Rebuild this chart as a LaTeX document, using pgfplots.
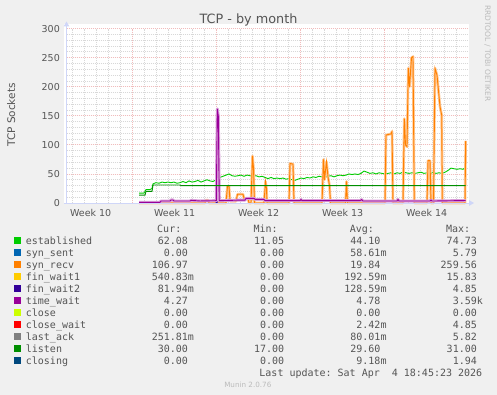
\documentclass[border=0pt]{standalone}
\usepackage{fontspec}
\setmainfont{DejaVu Sans}
\setmonofont{DejaVu Sans Mono}
\usepackage{pgfplots}
\usepackage{pgfplotstable}
\pgfplotsset{compat=1.18}
\usetikzlibrary{arrows.meta}

\definecolor{bgcol}{HTML}{F0F0F0}
\definecolor{txtcol}{HTML}{555555}
\definecolor{lighttxt}{HTML}{BBBBBB}
\definecolor{axiscol}{HTML}{CFD6F8}
\definecolor{majgrid}{HTML}{F2BCBC}
\definecolor{mingrid}{HTML}{D8D8D8}
\definecolor{estcol}{HTML}{00CC00}
\definecolor{synsentcol}{HTML}{0066B3}
\definecolor{synrecvcol}{HTML}{FF8000}
\definecolor{synrecvlight}{HTML}{FFC690}
\definecolor{finwaitonecol}{HTML}{FFCC00}
\definecolor{finwaittwocol}{HTML}{330099}
\definecolor{twcol}{HTML}{990099}
\definecolor{twlight}{HTML}{D9A0D9}
\definecolor{closecol}{HTML}{CCFF00}
\definecolor{closewaitcol}{HTML}{FF0000}
\definecolor{lastackcol}{HTML}{808080}
\definecolor{listencol}{HTML}{008F00}
\definecolor{closingcol}{HTML}{00487D}

\newcommand\legfont{\fontsize{10bp}{12bp}\selectfont\ttfamily}
\newcommand\E[3]{\makebox[168bp][l]{#1\hfill#2\makebox[6.02bp][l]{#3}}}
\newcommand\V[2]{\makebox[96.32bp][r]{#1\makebox[6.02bp][l]{#2}}}

\pgfplotstableread{
x y
139 17
144 17
146 23
150 23
152 25
153 33
156 35
159 34
162 36
165 35
168 36
171 35
174 36
177 34
180 35
183 37
186 35
189 38
192 36
195 37
198 39
201 36
204 38
207 40
210 38
213 37
216 40
218 42
220 44
223 46
226 48
229 50
232 47
235 46
238 47
241 48
244 46
247 48
250 47
253 46
256 47
259 45
262 46
265 44
268 42
271 44
274 42
277 43
280 42
283 43
286 41
289 42
292 40
295 39
298 41
301 43
304 42
307 44
310 43
313 45
316 44
319 46
322 45
325 44
328 46
331 47
334 45
337 47
340 48
343 47
346 48
349 50
352 49
355 50
358 49
361 51
364 55
367 53
370 51
373 52
376 50
379 52
382 51
385 50
388 51
391 52
394 50
397 52
400 51
403 53
406 52
409 51
412 52
415 51
418 52
421 53
424 51
427 52
430 50
433 53
436 51
439 52
442 51
445 53
448 56
451 60
454 59
457 58
460 59
463 58
465.7 62
}\established

\pgfplotstableread{
x y
139 0
205 0
206 5
208 5
209 0
226 0
227.5 29
229 29
230 3
236 3
237.5 15
243 15
244 8
248 8
249 0
251 0
252.5 81
253.5 60
254.5 0
264 0
265.5 37
266.5 25
267 0
289 0
290 68
293 67
294 0
322 0
323.5 75
324.5 40
326.5 71
328 45
329.5 30
330.5 0
345.5 0
346.5 37
347.5 0
385 0
386 117
391 119
392 123
393 0
403 0
404.3 145
405.5 100
407 97
408.3 232
409.5 200
411.5 250
413 252
414.3 0
427 0
428 73
430 73
431 0
433.5 0
435 232
437 220
440 166
441.7 151
442.3 0
465 0
465.7 107
}\synrecv

\pgfplotstableread{
x y
139 1.2
160 1.2
161 3.4
170 3.4
171 5.2
173 5.2
174 3.4
190 3.4
191 4.5
200 3.5
216.3 4
217.3 162
218.3 150
219.3 4
240 5
245 5
246 8
254 8
255 6.3
264 6.3
265 4
300 4
301 6
302 4
360 4
361.7 6
363 3.4
397 3.4
398 6
399 3.4
430 3.4
431 5
432 3.4
465.7 4.27
}\timewait

\pgfplotstableread{
x y
139 13.5
145 13.5
146 20
152 20
153 31
180 31
181 30
465.7 30
}\listen

\pgfplotstableread{
x y
216 0
216.6 40
217.2 0
}\finwaittwo

\begin{document}
\begin{tikzpicture}
\fill[bgcol] (0bp,0bp) rectangle (497bp,-395bp);
\path[use as bounding box] (0bp,0bp) rectangle (497bp,-395bp);
\fill[white] (64bp,-24bp) rectangle (469bp,-203bp);

\begin{axis}[
  at={(66.5bp,-203bp)}, anchor=south west,
  scale only axis, width=401.5bp, height=174.3bp,
  xmin=66.5, xmax=468, ymin=0, ymax=300,
  clip=false,
  axis line style={draw=none},
  xtick={132.7,216.7,300.7,384.7}, xticklabels={},
  minor xtick={72.7,84.7,...,456.7},
  extra x ticks={90.7,174.7,258.7,342.7,426.7},
  extra x tick labels={Week 10,Week 11,Week 12,Week 13,Week 14},
  extra x tick style={grid=none},
  ytick={0,50,...,300},
  minor ytick={10,20,...,290},
  grid=both,
  major grid style={draw=majgrid, line width=0.9bp, dash pattern=on 1bp off 1bp},
  minor grid style={draw=mingrid, line width=0.9bp, dash pattern=on 1bp off 1bp},
  major tick length=0pt, minor tick length=0pt,
  /pgf/number format/assume math mode=true,
  tick label style={font=\fontsize{9.5bp}{11bp}\selectfont, text=txtcol},
  yticklabel style={anchor=east, inner sep=0pt, xshift=-6.5bp},
  xticklabel style={anchor=base, inner sep=0pt, yshift=-13bp},
  legend style={
    at={(axis description cs:-0.130760,-0.183592)}, anchor=north west,
    draw=none, fill=none, inner sep=0pt, outer sep=0pt,
    row sep=0pt, font=\legfont, text=txtcol,
    nodes={inner sep=0pt, text height=9bp, text depth=3bp, anchor=base west},
    cells={anchor=base west},
    /tikz/every odd column/.append style={column sep=5.5bp},
  },
  legend image code/.code={\fill[#1] (0bp,0.7bp) rectangle (6bp,6.7bp);},
]
\addplot[forget plot, estcol, line width=0.9bp] table {\established};
\addplot[forget plot, synrecvlight, line width=2.6bp, line join=round] table {\synrecv};
\addplot[forget plot, synrecvcol, line width=0.9bp] table {\synrecv};
\addplot[forget plot, finwaittwocol, line width=0.9bp] table {\finwaittwo};
\addplot[forget plot, twlight, line width=3bp, line join=round] table {\timewait};
\addplot[forget plot, twcol, line width=0.9bp] table {\timewait};
\addplot[forget plot, listencol, line width=0.9bp] table {\listen};

\draw[axiscol, line width=1bp, -{Triangle[length=5bp, width=5.5bp]}] (axis cs:64,0) -- (axis cs:474,0);
\draw[axiscol, line width=1bp, -{Triangle[length=5bp, width=5.5bp]}] (axis cs:66.5,0) -- (axis cs:66.5,312.4);

\addlegendimage{estcol}
\addlegendentry{\E{established}{62.08}{}\V{11.05}{}\V{44.10}{}\V{74.73}{}}
\addlegendimage{synsentcol}
\addlegendentry{\E{syn\_sent}{0.00}{}\V{0.00}{}\V{58.61}{m}\V{5.79}{}}
\addlegendimage{synrecvcol}
\addlegendentry{\E{syn\_recv}{106.97}{}\V{0.00}{}\V{19.84}{}\V{259.56}{}}
\addlegendimage{finwaitonecol}
\addlegendentry{\E{fin\_wait1}{540.83}{m}\V{0.00}{}\V{192.59}{m}\V{15.83}{}}
\addlegendimage{finwaittwocol}
\addlegendentry{\E{fin\_wait2}{81.94}{m}\V{0.00}{}\V{128.59}{m}\V{4.85}{}}
\addlegendimage{twcol}
\addlegendentry{\E{time\_wait}{4.27}{}\V{0.00}{}\V{4.78}{}\V{3.59}{k}}
\addlegendimage{closecol}
\addlegendentry{\E{close}{0.00}{}\V{0.00}{}\V{0.00}{}\V{0.00}{}}
\addlegendimage{closewaitcol}
\addlegendentry{\E{close\_wait}{0.00}{}\V{0.00}{}\V{2.42}{m}\V{4.85}{}}
\addlegendimage{lastackcol}
\addlegendentry{\E{last\_ack}{251.81}{m}\V{0.00}{}\V{80.01}{m}\V{5.82}{}}
\addlegendimage{listencol}
\addlegendentry{\E{listen}{30.00}{}\V{17.00}{}\V{29.60}{}\V{31.00}{}}
\addlegendimage{closingcol}
\addlegendentry{\E{closing}{0.00}{}\V{0.00}{}\V{9.18}{m}\V{1.94}{}}
\end{axis}

\node[anchor=base, text=txtcol, font=\fontsize{12.8bp}{14bp}\selectfont, inner sep=0pt] at (248.5bp,-23.5bp) {TCP - by month};
\node[anchor=base, rotate=90, text=txtcol, font=\fontsize{10.5bp}{12bp}\selectfont, inner sep=0pt] at (15bp,-115bp) {TCP Sockets};
\node[anchor=base, rotate=-90, text=lighttxt, font=\fontsize{7.5bp}{9bp}\selectfont, inner sep=0pt] at (485bp,-53.3bp) {RRDTOOL / TOBI OETIKER};

\begin{scope}[every node/.style={anchor=base east, text=txtcol, font=\legfont, inner sep=0pt}]
\node at (181.5bp,-232bp) {Cur:};
\node at (277.8bp,-232bp) {Min:};
\node at (374.1bp,-232bp) {Avg:};
\node at (470.4bp,-232bp) {Max:};
\node at (482.4bp,-376bp) {Last update: Sat Apr\ \ 4 18:45:23 2026};
\end{scope}
\node[anchor=base, text=lighttxt, font=\fontsize{7.2bp}{9bp}\selectfont, inner sep=0pt] at (247.8bp,-387.5bp) {Munin 2.0.76};
\end{tikzpicture}
\end{document}
